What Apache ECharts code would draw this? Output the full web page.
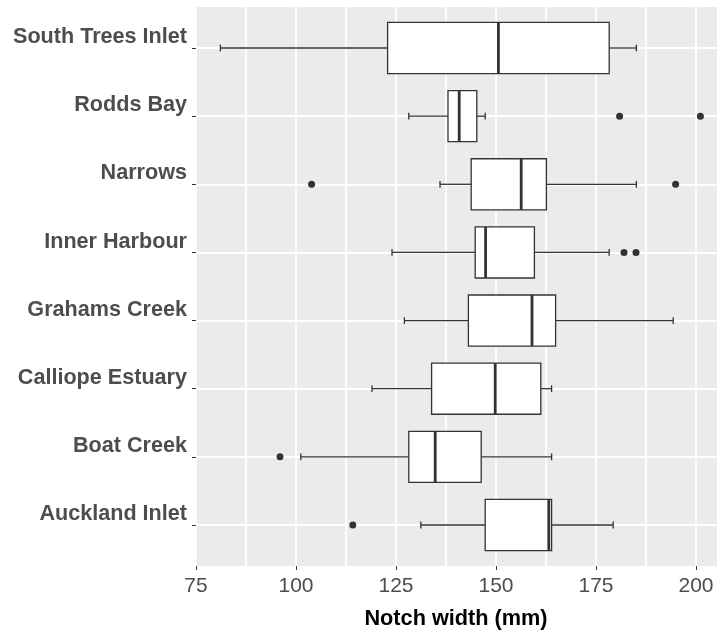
<!DOCTYPE html>
<html>
<head>
<meta charset="utf-8">
<script src="https://cdn.jsdelivr.net/npm/echarts@6/dist/echarts.min.js"></script>
<style>
html,body{margin:0;padding:0;background:#fff;}
#chart{width:717px;height:632px;}
</style>
</head>
<body>
<div id="chart"></div>
<script>
// Categories from bottom to top (ECharts category y-axis starts at the bottom)
const categories = ['Auckland Inlet', 'Boat Creek', 'Calliope Estuary', 'Grahams Creek',
                    'Inner Harbour', 'Narrows', 'Rodds Bay', 'South Trees Inlet'];
const whiskerLow  = [131.2, 101.2, 119.0, 127.1, 124.0, 136.0, 128.2, 81.1];
const quartile1   = [147.3, 128.2, 133.9, 143.1, 144.8, 143.8, 138.0, 122.9];
const medians     = [163.2, 134.8, 149.8, 159.0, 147.4, 156.3, 140.8, 150.6];
const quartile3   = [163.9, 146.3, 161.2, 164.9, 159.6, 162.6, 145.2, 178.3];
const whiskerHigh = [179.3, 163.9, 163.9, 194.3, 178.3, 185.1, 147.3, 185.1];
// Outliers: [value, category name]
const outliers = [
  [114.2, 'Auckland Inlet'],
  [96.0, 'Boat Creek'],
  [182.0, 'Inner Harbour'], [185.0, 'Inner Harbour'],
  [103.9, 'Narrows'], [194.9, 'Narrows'],
  [180.9, 'Rodds Bay'], [201.1, 'Rodds Bay']
];
const xTicks = [75, 100, 125, 150, 175, 200];
const xTitle = 'Notch width (mm)';

const boxData = categories.map((c, i) => [i, whiskerLow[i], quartile1[i], medians[i], quartile3[i], whiskerHigh[i]]);
const outlierData = outliers.map(o => [o[0], categories.indexOf(o[1])]);

const lineColor = '#333333';
function renderItem(params, api) {
  const yi = api.value(0);
  const band = api.size([0, 1])[1];
  const hh = band * 0.375;
  const cap = band * 0.05;
  const pMin = api.coord([api.value(1), yi]);
  const pQ1 = api.coord([api.value(2), yi]);
  const pMed = api.coord([api.value(3), yi]);
  const pQ3 = api.coord([api.value(4), yi]);
  const pMax = api.coord([api.value(5), yi]);
  const y = pMin[1];
  const thin = {stroke: lineColor, lineWidth: 1.3};
  return {
    type: 'group',
    children: [
      {type: 'line', shape: {x1: pMin[0], y1: y, x2: pQ1[0], y2: y}, style: thin},
      {type: 'line', shape: {x1: pQ3[0], y1: y, x2: pMax[0], y2: y}, style: thin},
      {type: 'line', shape: {x1: pMin[0], y1: y - cap, x2: pMin[0], y2: y + cap}, style: thin},
      {type: 'line', shape: {x1: pMax[0], y1: y - cap, x2: pMax[0], y2: y + cap}, style: thin},
      {type: 'rect', shape: {x: pQ1[0], y: y - hh, width: pQ3[0] - pQ1[0], height: 2 * hh},
        style: {fill: '#ffffff', stroke: lineColor, lineWidth: 1.3}},
      {type: 'line', shape: {x1: pMed[0], y1: y - hh, x2: pMed[0], y2: y + hh},
        style: {stroke: lineColor, lineWidth: 2.8}}
    ]
  };
}

const chart = echarts.init(document.getElementById('chart'), null, {renderer: 'canvas'});
const gridLine = {color: '#ffffff', width: 1.8};
chart.setOption({
  animation: false,
  backgroundColor: '#ffffff',
  grid: [
    {left: 196, right: -29, top: 7, bottom: 66, show: true, backgroundColor: '#EBEBEB', borderWidth: 0,
      outerBoundsMode: 'none', containLabel: false},
    {left: 196, right: -29, top: 48, bottom: 107, show: false, outerBoundsMode: 'none', containLabel: false}
  ],
  xAxis: [
    {
      type: 'value', gridIndex: 0, min: 75, max: 212.5, interval: 25,
      axisLine: {show: false},
      axisTick: {show: true, length: 4, lineStyle: {color: lineColor, width: 1}},
      axisLabel: {
        color: '#4D4D4D', fontSize: 21, fontFamily: 'Liberation Sans, Arial, sans-serif', margin: 10,
        showMaxLabel: false,
        formatter: v => (xTicks.indexOf(v) >= 0 ? String(v) : '')
      },
      splitLine: {show: true, lineStyle: gridLine},
      minorTick: {show: false, splitNumber: 2},
      minorSplitLine: {show: true, lineStyle: gridLine}
    },
    {type: 'value', gridIndex: 1, min: 75, max: 212.5, show: false}
  ],
  yAxis: [
    {type: 'value', gridIndex: 0, min: 0, max: 1, show: false},
    {
      type: 'category', gridIndex: 1, data: categories, boundaryGap: false,
      axisLine: {show: false},
      axisTick: {show: true, length: 4, lineStyle: {color: lineColor, width: 1}},
      axisLabel: {
        color: '#4D4D4D', fontSize: 21.6, fontWeight: 'bold', fontFamily: 'Liberation Sans, Arial, sans-serif',
        margin: 9, verticalAlign: 'bottom', lineHeight: 21.6, padding: [0, 0, 0, 0]
      },
      splitLine: {show: true, lineStyle: gridLine}
    }
  ],
  graphic: [{
    type: 'text', x: 456, y: 619,
    style: {text: xTitle, fill: '#000000', font: 'bold 21.7px "Liberation Sans", Arial, sans-serif',
      align: 'center', verticalAlign: 'middle'}
  }],
  series: [
    {
      type: 'custom', xAxisIndex: 1, yAxisIndex: 1, renderItem: renderItem,
      encode: {x: [1, 2, 3, 4, 5], y: 0}, data: boxData, z: 3
    },
    {
      type: 'scatter', xAxisIndex: 1, yAxisIndex: 1, data: outlierData,
      symbolSize: 7, itemStyle: {color: lineColor, opacity: 1}, z: 4
    }
  ]
});
</script>
</body>
</html>
